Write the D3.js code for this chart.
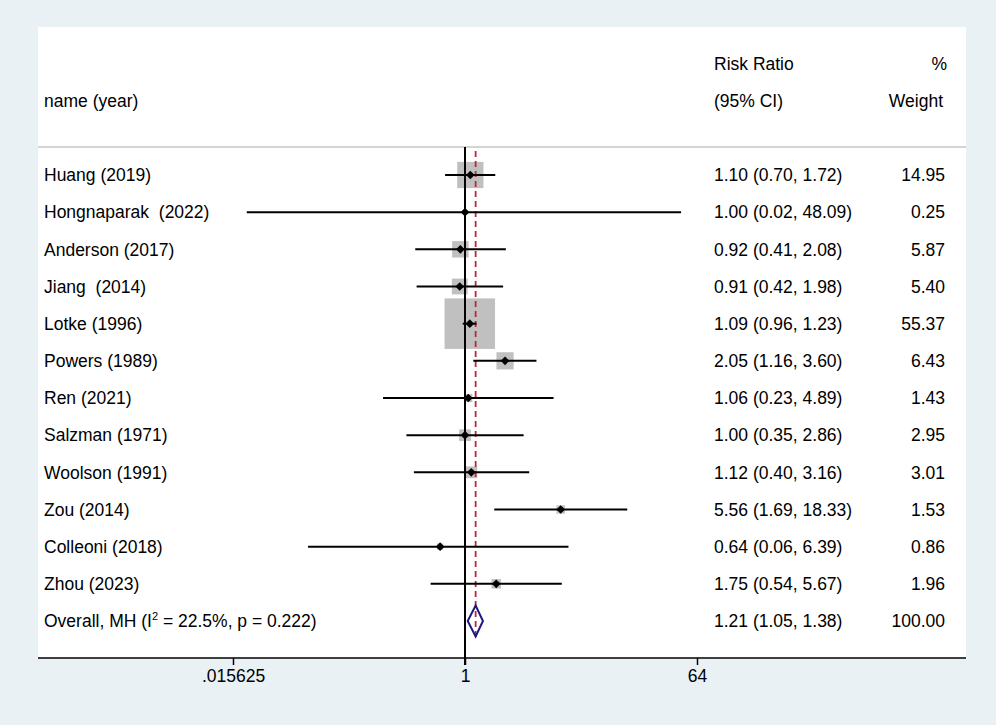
<!DOCTYPE html>
<html>
<head>
<meta charset="utf-8">
<script src="https://cdn.jsdelivr.net/npm/d3@7"></script>
<style>
  html, body { margin: 0; padding: 0; background: #e9f1f5; }
  svg { display: block; }
  text { font-family: "Liberation Sans", Arial, Helvetica, sans-serif; font-size: 17.5px; fill: #000; white-space: pre; }
</style>
</head>
<body>
<svg id="chart" width="996" height="725"></svg>
<script>
// study rows
var names = [
	"Huang (2019)",
	"Hongnaparak  (2022)",
	"Anderson (2017)",
	"Jiang  (2014)",
	"Lotke (1996)",
	"Powers (1989)",
	"Ren (2021)",
	"Salzman (1971)",
	"Woolson (1991)",
	"Zou (2014)",
	"Colleoni (2018)",
	"Zhou (2023)"
];
var rr     = [1.10, 1.00, 0.92, 0.91, 1.09, 2.05, 1.06, 1.00, 1.12, 5.56, 0.64, 1.75];
var lower  = [0.70, 0.02, 0.41, 0.42, 0.96, 1.16, 0.23, 0.35, 0.40, 1.69, 0.06, 0.54];
var upper  = [1.72, 48.09, 2.08, 1.98, 1.23, 3.60, 4.89, 2.86, 3.16, 18.33, 6.39, 5.67];
var weight = [14.95, 0.25, 5.87, 5.40, 55.37, 6.43, 1.43, 2.95, 3.01, 1.53, 0.86, 1.96];

// pooled estimate
var overallRR = [1.21, 1.05, 1.38];
var overallWeight = 100.00;
var overallI2 = "22.5%";
var overallP = "0.222";

var tickValues = [1 / 64, 1, 64];
var tickLabels = [".015625", "1", "64"];

var panel = { left: 38, right: 966, top: 27, bottom: 658 };
var headerLine = 147;

var svg = d3.select("#chart");

svg.append("rect")
	.attr("x", panel.left)
	.attr("y", panel.top)
	.attr("width", panel.right - panel.left)
	.attr("height", panel.bottom - panel.top)
	.attr("fill", "#fff");

var x = d3.scaleLog().base(2)
	.domain([1 / 64, 64])
	.range([233, 697]);

var rows = d3.range(names.length + 1);
var y = d3.scalePoint()
	.domain(rows)
	.range([175, 621]);

var fmt = d3.format(".2f");
function ciText(a, b, c) {
	return fmt(a) + " (" + fmt(b) + ", " + fmt(c) + ")";
}

// box side scales with sqrt(weight)
var boxSide = d3.scaleSqrt()
	.domain([0, d3.max(weight)])
	.range([0, 50.5]);

var colName = 44, colCI = 714, colW = 945;

// header
svg.append("line")
	.attr("x1", panel.left).attr("x2", panel.right)
	.attr("y1", headerLine).attr("y2", headerLine)
	.attr("stroke", "#c6c6c6").attr("stroke-width", 1.5);

function label(xp, yc, t, anchor) {
	return svg.append("text")
		.attr("x", xp)
		.attr("y", yc + 6.2)
		.attr("text-anchor", anchor || "start")
		.attr("xml:space", "preserve")
		.text(t);
}
label(colName, 101, "name (year)");
label(colCI, 64, "Risk Ratio");
label(colCI, 101, "(95% CI)");
label(colW + 2, 64, "%", "end");
label(colW - 2, 101, "Weight", "end");

// boxes first
var studies = d3.range(names.length).map(function(i) {
	return { name: names[i], rr: rr[i], lo: lower[i], hi: upper[i], w: weight[i], row: i };
});

svg.append("g").selectAll("rect")
	.data(studies)
	.enter().append("rect")
		.attr("x", function(d) { return x(d.rr) - boxSide(d.w) / 2; })
		.attr("y", function(d) { return y(d.row) - boxSide(d.w) / 2; })
		.attr("width", function(d) { return boxSide(d.w); })
		.attr("height", function(d) { return boxSide(d.w); })
		.attr("fill", "#c0c0c0");

// null line at 1
svg.append("line")
	.attr("x1", x(1)).attr("x2", x(1))
	.attr("y1", headerLine).attr("y2", panel.bottom + 7)
	.attr("stroke", "#000").attr("stroke-width", 2);

// overall dashed line
svg.append("line")
	.attr("x1", x(overallRR[0])).attr("x2", x(overallRR[0]))
	.attr("y1", headerLine + 4).attr("y2", y(names.length) + 18)
	.attr("stroke", "#b8283c").attr("stroke-width", 1.8)
	.attr("stroke-dasharray", "6,4");

// confidence intervals
svg.append("g").selectAll("line")
	.data(studies)
	.enter().append("line")
		.attr("x1", function(d) { return x(d.lo); })
		.attr("x2", function(d) { return x(d.hi); })
		.attr("y1", function(d) { return y(d.row); })
		.attr("y2", function(d) { return y(d.row); })
		.attr("stroke", "#000").attr("stroke-width", 2);

// point markers
var diamond = d3.symbol().type(d3.symbolDiamond2).size(48);
svg.append("g").selectAll("path")
	.data(studies)
	.enter().append("path")
		.attr("d", diamond)
		.attr("transform", function(d) { return "translate(" + x(d.rr) + "," + y(d.row) + ")"; })
		.attr("fill", "#000");

// pooled diamond
var oy = y(names.length);
svg.append("path")
	.attr("d", d3.line()([
		[x(overallRR[1]), oy],
		[x(overallRR[0]), oy - 15.5],
		[x(overallRR[2]), oy],
		[x(overallRR[0]), oy + 15.5]
	]) + "Z")
	.attr("fill", "none")
	.attr("stroke", "#1a1a80")
	.attr("stroke-width", 2);

// row text
studies.forEach(function(d) {
	var yc = y(d.row);
	label(colName, yc, d.name);
	label(colCI, yc, ciText(d.rr, d.lo, d.hi));
	label(colW, yc, fmt(d.w), "end");
});

var ot = svg.append("text")
	.attr("x", colName)
	.attr("y", oy + 6.2);
ot.append("tspan").text("Overall, MH (I");
ot.append("tspan").attr("dy", -7).style("font-size", "11px").text("2");
ot.append("tspan").attr("dy", 7).text(" = " + overallI2 + ", p = " + overallP + ")");
label(colCI, oy, ciText(overallRR[0], overallRR[1], overallRR[2]));
label(colW, oy, fmt(overallWeight), "end");

// x axis
var axis = d3.axisBottom(x)
	.tickValues(tickValues)
	.tickFormat(function(d, i) { return tickLabels[i]; })
	.tickSize(7)
	.tickSizeOuter(0)
	.tickPadding(5);

var ax = svg.append("g")
	.attr("transform", "translate(0," + panel.bottom + ")")
	.call(axis);
ax.select(".domain").remove();
ax.selectAll(".tick line").attr("stroke", "#000").attr("stroke-width", 1.5);
ax.selectAll(".tick text")
	.attr("fill", "#000")
	.style("font-family", "\"Liberation Sans\", Arial, Helvetica, sans-serif")
	.style("font-size", "17.5px");
ax.append("line")
	.attr("x1", panel.left).attr("x2", panel.right)
	.attr("y1", 0).attr("y2", 0)
	.attr("stroke", "#000").attr("stroke-width", 1.5);
</script>
</body>
</html>
